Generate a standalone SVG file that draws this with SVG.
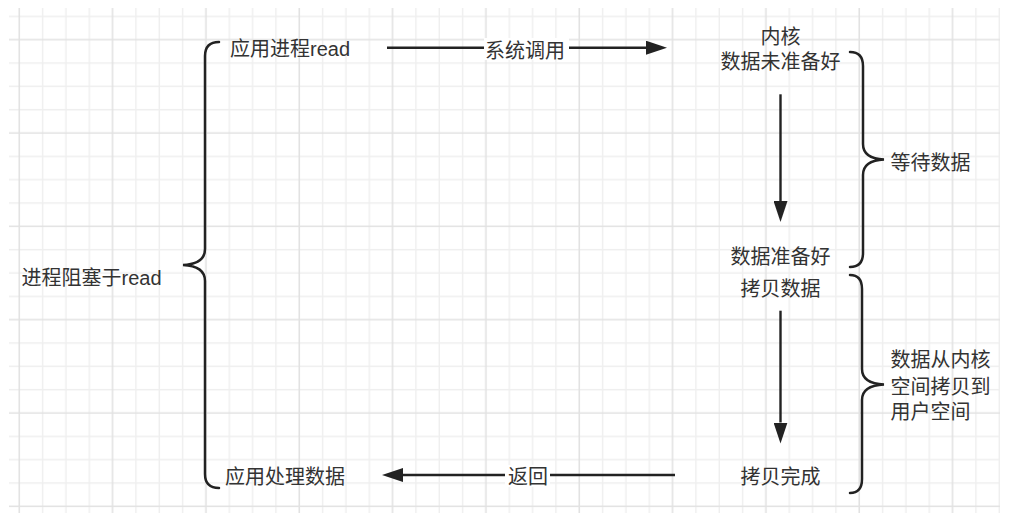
<svg xmlns="http://www.w3.org/2000/svg" width="1017" height="519" viewBox="0 0 1017 519">
<style>
.t{font-family:"Liberation Sans","Noto Sans CJK SC",sans-serif;font-size:20px;fill:#333}
.m{text-anchor:middle}
.ln{stroke:#222;stroke-width:2.4;fill:none}
.br{stroke:#222;stroke-width:2.5;fill:none;stroke-linecap:round}
.minor{stroke:#efefef;stroke-width:1.4}
.major{stroke:#e2e2e2;stroke-width:1.6}
</style>
<defs>
<pattern id="grid" patternUnits="userSpaceOnUse" x="-15.7" y="4.7" width="93.33" height="93.33">
<path class="minor" d="M11.67,0V93.33M58.33,0V93.33M81.67,0V93.33M0,11.67H93.33M0,58.33H93.33M0,81.67H93.33"/>
<path class="major" d="M35,0V93.33M0,35H93.33"/>
</pattern>
<marker id="arr" markerUnits="userSpaceOnUse" markerWidth="21" markerHeight="14" refX="0" refY="7" orient="auto">
<path d="M0,0 L21,7 L0,14 z" fill="#222"/>
</marker>
</defs>
<rect width="1017" height="519" fill="#fff"/>
<rect x="9" y="8" width="991" height="505" fill="url(#grid)"/>

<g id="connectors">
<path class="ln" d="M387,47.7 H646" marker-end="url(#arr)"/>
<rect x="484" y="38" width="85" height="22" fill="#fff"/>
<text class="t m" x="525" y="57.5">系统调用</text>
<path class="ln" d="M780.5,94.3 V201" marker-end="url(#arr)"/>
<path class="ln" d="M780.5,310.7 V422.5" marker-end="url(#arr)"/>
<path class="ln" d="M675,475 H403" marker-end="url(#arr)"/>
<rect x="505" y="465" width="45" height="22" fill="#fff"/>
<text class="t m" x="528" y="484">返回</text>
</g>

<g id="brace-left">
<path class="br" d="M219,42 Q205,42 205,56 L205,249 Q205,264 183,265 Q205,266 205,281 L205,474 Q205,488 219,488"/>
</g>
<g id="brace-wait">
<path class="br" d="M850,52 Q863,52 863,66 L863,144 Q863,158.5 884,159.5 Q863,160.5 863,175 L863,253 Q863,267 850,267"/>
</g>
<g id="brace-copy">
<path class="br" d="M850,275 Q862,275 862,289 L862,369 Q862,383.5 884,384.5 Q862,385.5 862,400 L862,479 Q862,493 850,493"/>
</g>

<g id="app-read"><text class="t" x="230" y="55.5">应用进程read</text></g>
<g id="kernel-not-ready"><text class="t m" x="780.5" y="43.7">内核</text><text class="t m" x="780.5" y="68.7">数据未准备好</text></g>
<g id="data-ready"><text class="t m" x="780.5" y="263.7">数据准备好</text></g>
<g id="copy-data"><text class="t m" x="780.5" y="296.3">拷贝数据</text></g>
<g id="copy-done"><text class="t m" x="780.5" y="483.7">拷贝完成</text></g>
<g id="wait-data"><text class="t" x="890.5" y="170.3">等待数据</text></g>
<g id="copy-desc"><text class="t" x="890.5" y="367">数据从内核</text><text class="t" x="890.5" y="393.5">空间拷贝到</text><text class="t" x="890.5" y="419">用户空间</text></g>
<g id="blocked"><text class="t" x="21.5" y="285.3">进程阻塞于read</text></g>
<g id="app-process"><text class="t" x="225" y="483.7">应用处理数据</text></g>
</svg>
